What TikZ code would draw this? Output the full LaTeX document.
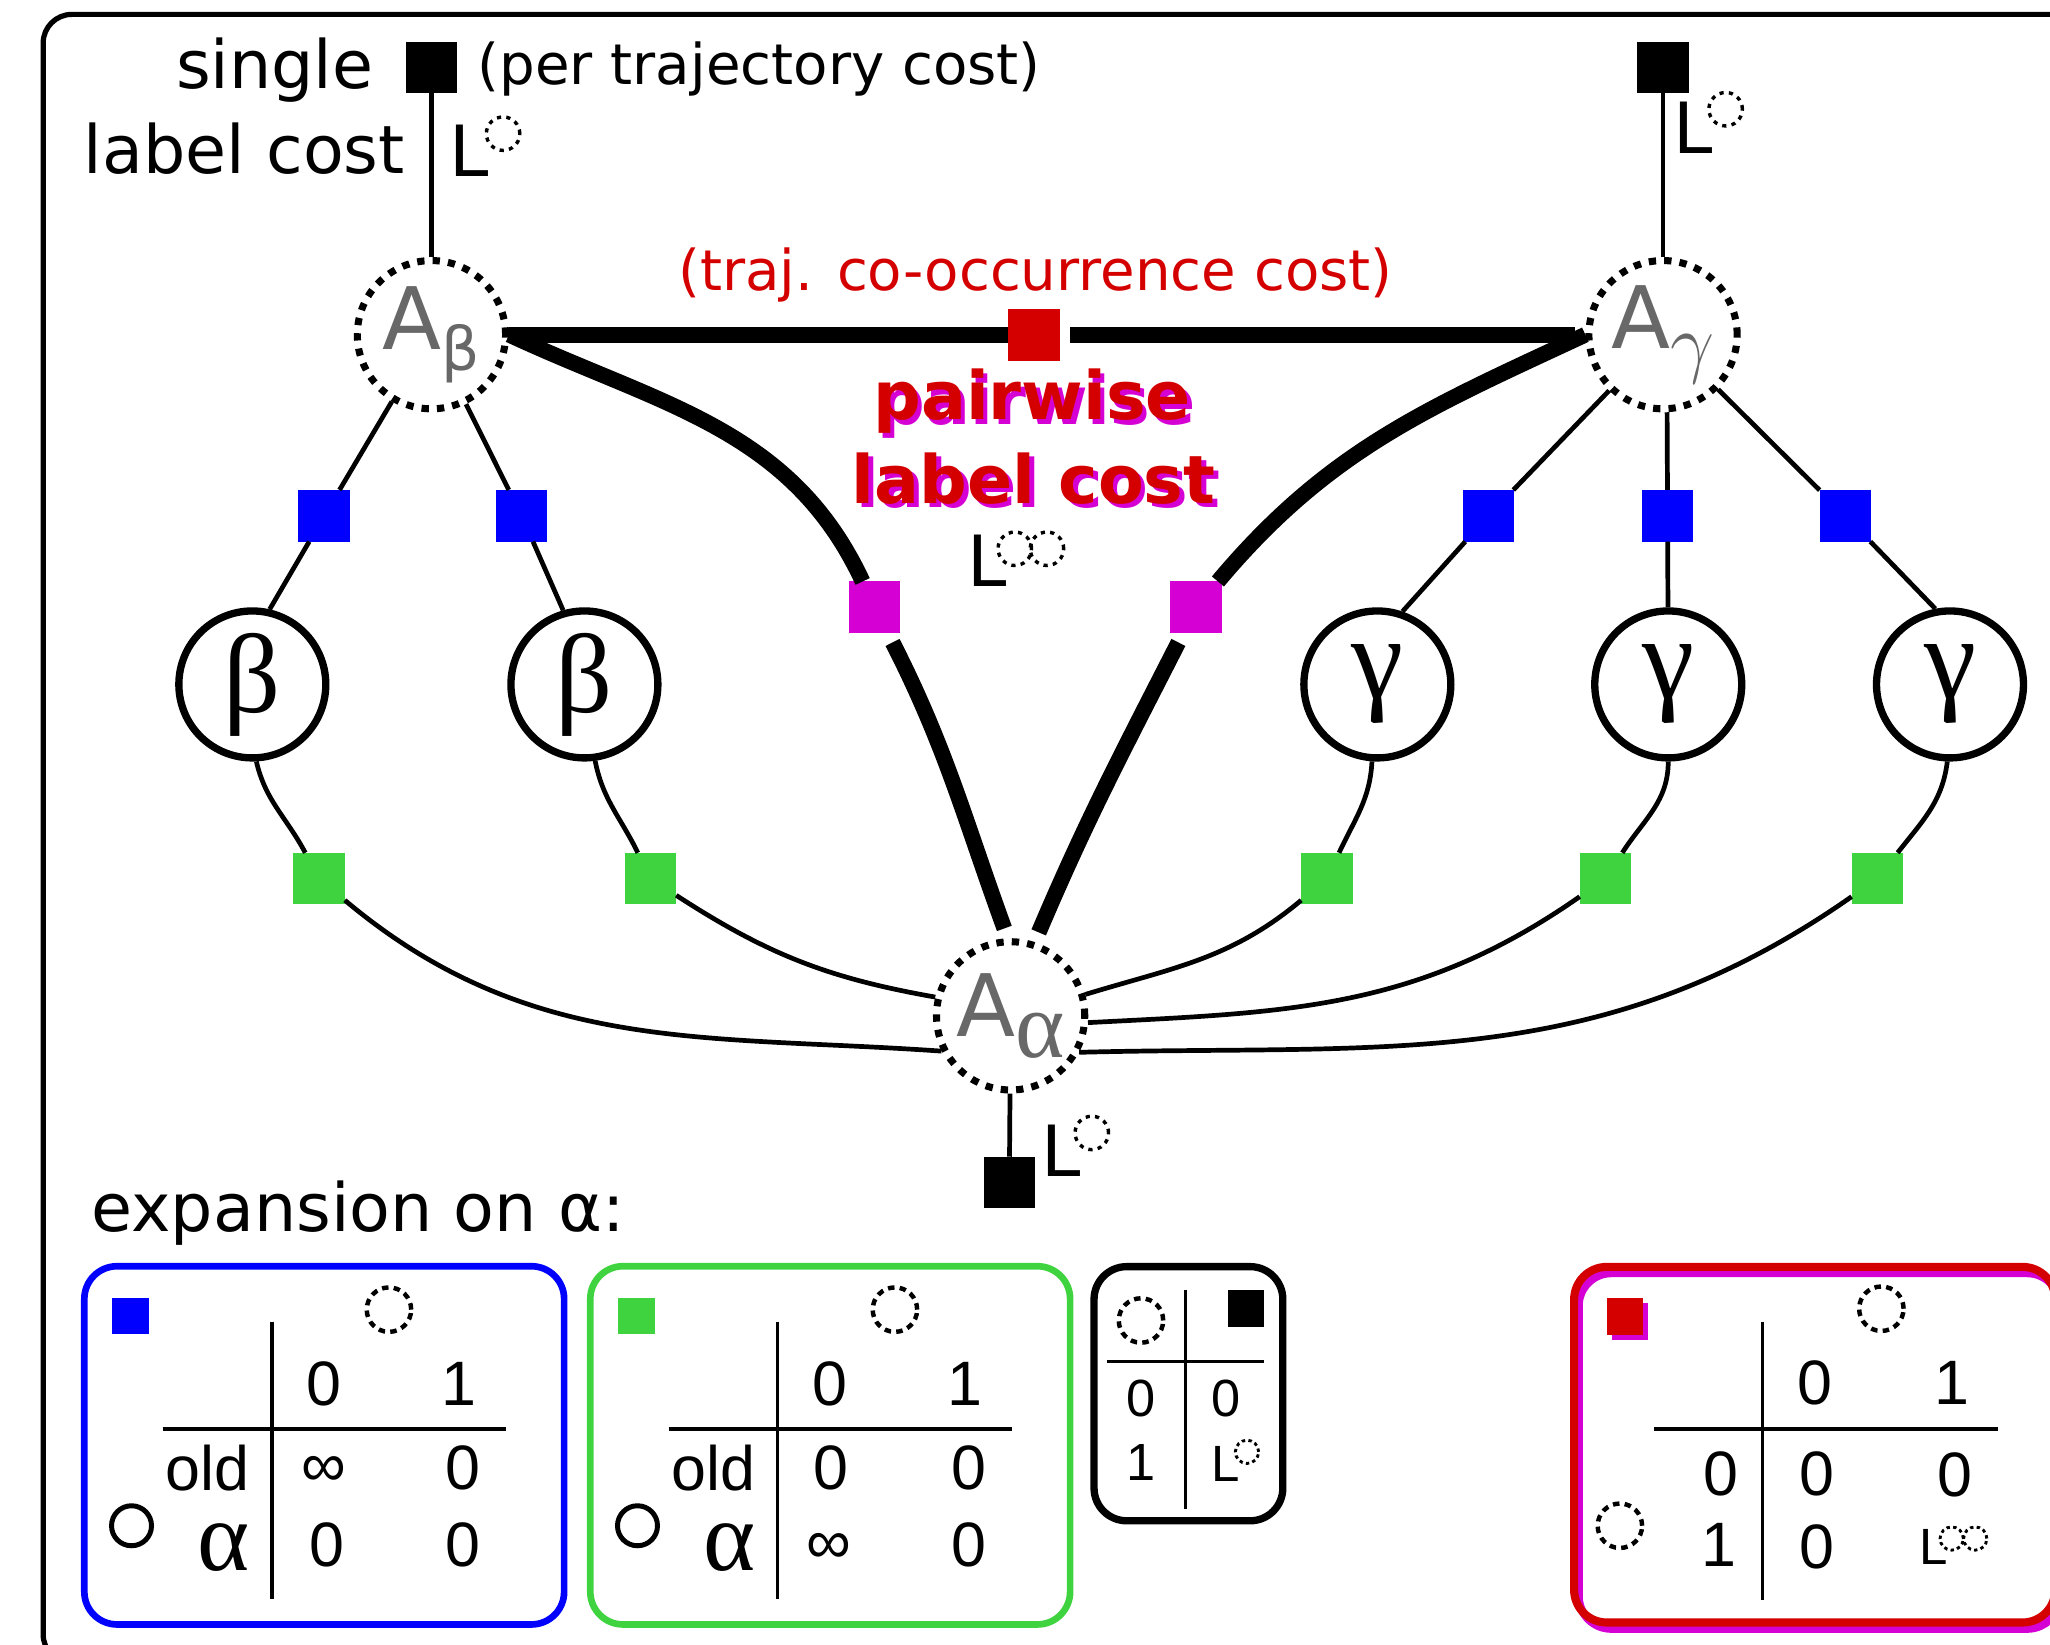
\RequirePackage{fix-cm}
\documentclass[tikz,border=0pt]{standalone}
\usepackage{fontspec}
\setmainfont{DejaVu Sans}
\newfontfamily\numfont{Liberation Sans}
\newfontfamily\serifgr{Liberation Serif}
\usetikzlibrary{calc}
\definecolor{fblue}{RGB}{0,0,255}
\definecolor{fgreen}{RGB}{64,211,64}
\definecolor{fred}{RGB}{212,0,0}
\definecolor{fmag}{RGB}{212,0,212}
\definecolor{agray}{RGB}{104,104,104}
\newcommand{\fsz}[1]{\fontsize{#1}{#1}\selectfont}
\begin{document}
\begin{tikzpicture}[x=0.5pt, y=0.5pt,
  factor/.style={rectangle, inner sep=0pt, outer sep=0pt, minimum size=19.75pt},
  keysq/.style={rectangle, inner sep=0pt, outer sep=0pt, minimum size=14pt},
  varnode/.style={circle, draw, line width=2.8pt, minimum size=56.2pt, inner sep=0pt,
    font=\serifgr\fsz{43}},
  auxnode/.style={circle, draw, line width=2.7pt, dash pattern=on 2.8pt off 3.1pt,
    minimum size=56.7pt, inner sep=0pt, text=agray, font=\fsz{33}},
  link/.style={line width=1.8pt},
  heavy/.style={line width=6pt, shorten <=4pt, shorten >=4pt},
  dring/.style={circle, draw, inner sep=0pt, line width=1.7pt,
    dash pattern=on 2.5pt off 2pt, minimum size=17pt},
  sring/.style={circle, draw, inner sep=0pt, line width=1.3pt,
    dash pattern=on 1.6pt off 2pt, minimum size=12.8pt},
  tring/.style={circle, draw, inner sep=0pt, line width=1.1pt,
    dash pattern=on 1.3pt off 1.25pt, minimum size=8.9pt},
  oring/.style={circle, draw, inner sep=0pt, line width=1.9pt, minimum size=15.3pt},
  bigL/.style={inner sep=0pt, anchor=base west, font=\fsz{27}},
  smallL/.style={inner sep=0pt, anchor=base west, font=\numfont\fsz{19.5}},
  txt/.style={inner sep=0pt, font=\fsz{25.5}},
  paren/.style={inner sep=0pt, font=\fsz{21.5}},
  boldtxt/.style={inner sep=0pt, font=\bfseries\fsz{25.5}},
  num/.style={inner sep=0pt, font=\numfont\fsz{24}},
  snum/.style={inner sep=0pt, font=\numfont\fsz{20}},
  galpha/.style={inner sep=0pt, font=\serifgr\fsz{38}},
  tabrule/.style={line width=1.2pt},
  panel/.style={rectangle, draw, rounded corners=12.5pt, inner sep=0pt, line width=2.55pt}
]
\useasboundingbox (0,0) rectangle (1568,-1258);
% outer frame
\draw[line width=2pt, rounded corners=11pt] (33,-11) rectangle (1600,-1272);

% single label costs and their legend
\node[factor, fill=black] (sq1) at (330,-51.5) {};
\node[factor, fill=black] (sq2) at (1272,-51.5) {};
\node[txt, anchor=base east] (single) at (286,-67.5) {single};
\node[txt, anchor=base east] (lcost) at (310,-133) {label cost};
\node[paren, anchor=base west] (per) at (365,-65) {(per trajectory cost)};
\node[bigL] (L1) at (343.2,-135) {L};
\node[sring] (L1r) at ($(L1.north east)+(10.7,-7)$) {};
\node[bigL] (L2) at (1279.7,-117.3) {L};
\node[sring] (L2r) at ($(L2.north east)+(9.3,-6)$) {};

% label indicator variables
\node[auxnode] (Ab) at (330,-256) {A\raisebox{-8pt}{\fsz{23}β}};
\node[auxnode] (Ag) at (1272,-256) {A\raisebox{-8pt}{\fsz{30}$\gamma$}};
\node[auxnode] (Aa) at (773,-777) {A\raisebox{-8pt}{\serifgr\fsz{36}α}};

% pairwise label cost
\node[factor, fill=fred] (rs) at (791,-256) {};
\node[paren, text=fred, anchor=base] (cooc) at (792,-222) {(traj. co-occurrence cost)};
\node[boldtxt, text=fmag, anchor=base] (pw2) at (793,-324.5) {pairwise};
\node[boldtxt, text=fred, anchor=base] (pw1) at (789.5,-321) {pairwise};
\node[boldtxt, text=fmag, anchor=base] (lc2) at (794,-388.5) {label cost};
\node[boldtxt, text=fred, anchor=base] (lc1) at (790.5,-385) {label cost};
\node[bigL] (L4) at (739.7,-448.7) {L};
\node[sring] (L4a) at ($(L4.north east)+(5.6,-10.8)$) {};
\node[sring] (L4b) at ($(L4.north east)+(30.2,-10.8)$) {};
\node[factor, fill=fmag] (m1) at (669,-464.5) {};
\node[factor, fill=fmag] (m2) at (915,-464.5) {};

% single label cost of alpha
\node[factor, fill=black] (sq3) at (772,-904.5) {};
\node[bigL] (L3) at (796.5,-900) {L};
\node[sring] (L3r) at ($(L3.north east)+(7.7,-6.3)$) {};

% trajectory variables
\node[varnode] (b1) at (193,-523.5) {β};
\node[varnode] (b2) at (447,-523.5) {β};
\node[varnode, font=\serifgr\fsz{45}] (g1) at (1053.5,-523.5) {γ};
\node[varnode, font=\serifgr\fsz{45}] (g2) at (1276,-523.5) {γ};
\node[varnode, font=\serifgr\fsz{45}] (g3) at (1491.5,-523.5) {γ};

% blue factors
\node[factor, fill=fblue] (u1) at (248,-394.5) {};
\node[factor, fill=fblue] (u2) at (399,-394.5) {};
\node[factor, fill=fblue] (u3) at (1138.5,-394.5) {};
\node[factor, fill=fblue] (u4) at (1275.5,-394.5) {};
\node[factor, fill=fblue] (u5) at (1411.5,-394.5) {};

% green factors
\node[factor, fill=fgreen] (h1) at (244,-672) {};
\node[factor, fill=fgreen] (h2) at (497.5,-672) {};
\node[factor, fill=fgreen] (h3) at (1015,-672) {};
\node[factor, fill=fgreen] (h4) at (1228,-672) {};
\node[factor, fill=fgreen] (h5) at (1436,-672) {};

% connectors
\draw[link] (sq1) -- (Ab);
\draw[link] (sq2) -- (Ag);
\draw[link] (Aa) -- (sq3);
\draw[link] (Ab) -- (u1) -- (b1.77);
\draw[link] (Ab) -- (u2) -- (b2.106);
\draw[link] (Ag) -- (u3) -- (g1.71);
\draw[link] (Ag.-87) -- (u4) -- (g2);
\draw[link] (Ag) -- (u5) -- (g3.101);

\draw[heavy] (Ab.east) -- (rs) -- (Ag.west);
\draw[heavy] (Ab.east) to[out=-25, in=115] (m1) to[out=-63, in=110] (Aa.92.6);
\draw[heavy] (Ag.west) to[out=-155, in=50] (m2) to[out=-117, in=67] (Aa.72.6);

\draw[link] (b1.-87) to[out=-77, in=118] (h1) to[out=-40, in=176] (Aa.207.6);
\draw[link] (b2.-82) to[out=-79, in=116] (h2) to[out=-33, in=170] (Aa.166.5);
\draw[link] (g1.-94) to[out=-93, in=65] (h3) to[out=-140, in=17] (Aa.16);
\draw[link] (g2.-90) to[out=-90, in=57] (h4) to[out=-145, in=3] (Aa.-5.6);
\draw[link] (g3.-92) to[out=-97, in=52] (h5) to[out=-145, in=1.5] (Aa.-28.3);

% expansion tables
\node[txt, anchor=base west] (expn) at (69.6,-942) {expansion on α:};

% blue table
\node[panel, draw=fblue, minimum width=183.5pt, minimum height=137pt] (pB) at (248,-1105.5) {};
\node[keysq, fill=fblue] (kB) at (100,-1006.5) {};
\node[dring] (hB) at (297.5,-1001.7) {};
\node[oring] (vB) at (100.6,-1167) {};
\draw[tabrule] (208,-1011) -- (208,-1223.3);
\draw[tabrule] (124.4,-1093) -- (387,-1093);
\node[num] (b00) at (248,-1058.6) {0};
\node[num] (b01) at (351,-1058.6) {1};
\node[num, anchor=base east] (bOld) at (191,-1140) {old};
\node[num] (bInf) at (247.5,-1125.6) {∞};
\node[num] (b11) at (354,-1123) {0};
\node[galpha] (bAl) at (171,-1184) {α};
\node[num] (b20) at (250,-1182) {0};
\node[num] (b21) at (354,-1182) {0};

% green table
\node[panel, draw=fgreen, minimum width=183.5pt, minimum height=137pt] (pG) at (635,-1105.5) {};
\node[keysq, fill=fgreen] (kG) at (487,-1006.5) {};
\node[dring] (hG) at (684.5,-1001.7) {};
\node[oring] (vG) at (487.6,-1167) {};
\draw[tabrule] (595,-1011) -- (595,-1223.3);
\draw[tabrule] (511.4,-1093) -- (774,-1093);
\node[num] (g00) at (635,-1058.6) {0};
\node[num] (g01) at (738,-1058.6) {1};
\node[num, anchor=base east] (gOld) at (578,-1140) {old};
\node[num] (g10) at (635.4,-1123) {0};
\node[num] (g11) at (741,-1123) {0};
\node[galpha] (gAl) at (558,-1184) {α};
\node[num] (gInf) at (634,-1184.3) {∞};
\node[num] (g21) at (741,-1182) {0};

% black table
\node[panel, draw=black, line width=2.8pt, minimum width=72.2pt, minimum height=97.2pt] (pK) at (909,-1066) {};
\node[dring] (hK) at (872.7,-1010) {};
\node[keysq, fill=black] (kK) at (953,-1001) {};
\draw[tabrule] (907,-987) -- (907,-1154.4);
\draw[tabrule] (847,-1041.5) -- (967,-1041.5);
\node[snum] (k00) at (872.4,-1070) {0};
\node[snum] (k01) at (937.8,-1070) {0};
\node[snum] (k10) at (873,-1118.6) {1};
\node[smallL] (kL) at (926,-1133.3) {L};
\node[tring] (kLr) at ($(kL.north east)+(5.3,-4.4)$) {};

% red table
\node[panel, draw=fmag, line width=3.1pt, minimum width=184pt, minimum height=136pt] (pR2) at (1391.5,-1109.8) {};
\node[panel, draw=fred, line width=3.1pt, minimum width=184pt, minimum height=136pt] (pR) at (1388,-1105) {};
\node[keysq, fill=fmag] (kR2) at (1246.8,-1010.8) {};
\node[keysq, fill=fred] (kR) at (1243,-1007) {};
\node[dring] (hR) at (1439,-1001) {};
\node[dring] (vR) at (1239,-1167) {};
\draw[tabrule] (1348,-1011) -- (1348,-1224);
\draw[tabrule] (1265,-1093) -- (1528,-1093);
\node[num] (r00) at (1388,-1058) {0};
\node[num] (r01) at (1493,-1058) {1};
\node[num] (r10) at (1316,-1127) {0};
\node[num] (r11) at (1390,-1127) {0};
\node[num] (r12) at (1495,-1128) {0};
\node[num] (r20) at (1315,-1182) {1};
\node[num] (r21) at (1390,-1183) {0};
\node[smallL] (rL) at (1468,-1197) {L};
\node[tring] (rLa) at ($(rL.north east)+(2.3,-7)$) {};
\node[tring] (rLb) at ($(rL.north east)+(20.3,-7)$) {};
\end{tikzpicture}
\end{document}
